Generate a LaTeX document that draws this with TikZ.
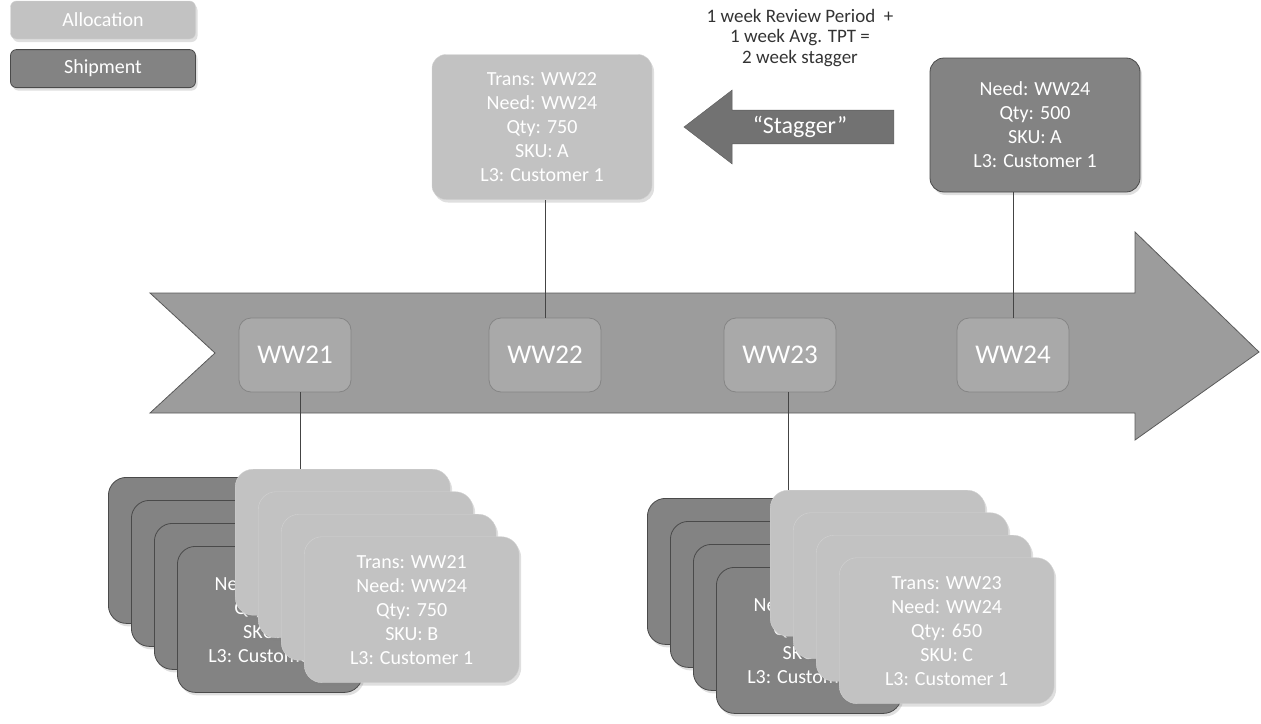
\documentclass[tikz,border=0pt]{standalone}
\usepackage{fontspec}
\setmainfont{Carlito}
\usepackage{tikz}
\usetikzlibrary{shapes.arrows, shadows, positioning}
\definecolor{arrowfill}{HTML}{9C9C9C}
\definecolor{arrowline}{HTML}{5A5A5A}
\definecolor{weekfill}{HTML}{A9A9A9}
\definecolor{weekline}{HTML}{858585}
\definecolor{allocfill}{HTML}{C2C2C2}
\definecolor{allocline}{HTML}{D2D2D2}
\definecolor{shipfill}{HTML}{838383}
\definecolor{shipline}{HTML}{4A4A4A}
\definecolor{staggerfill}{HTML}{727272}
\definecolor{linkgray}{HTML}{444444}

\begin{document}
\begin{tikzpicture}[
    x=1pt, y=-1pt,
    card/.style={rectangle, rounded corners=14pt, minimum width=215pt, minimum height=150pt,
                 align=center, text=white, font=\fontsize{20}{24}\selectfont,
                 drop shadow={opacity=0.25, shadow xshift=2pt, shadow yshift=-3pt}},
    alloc/.style={card, draw=allocline, fill=allocfill},
    ship/.style={card, draw=shipline, fill=shipfill, thick},
    stackship/.style={ship, rounded corners=18pt, minimum width=185pt, minimum height=146pt,
                      anchor=north west},
    stackalloc/.style={alloc, rounded corners=18pt, minimum height=146pt, anchor=north west},
    week/.style={rectangle, rounded corners=12pt, draw=weekline, fill=weekfill, thick,
                 minimum width=112pt, minimum height=74pt, text=white,
                 font=\fontsize{27}{30}\selectfont},
    legend/.style={rectangle, rounded corners=6pt, minimum width=185pt, minimum height=38pt,
                   text=white, font=\fontsize{20}{22}\selectfont,
                   drop shadow={opacity=0.25, shadow xshift=2pt, shadow yshift=-3pt}},
    stagger/.style={single arrow, shape border rotate=180, draw=arrowline, fill=staggerfill,
                    minimum height=210pt, single arrow head extend=20pt,
                    single arrow tip angle=75, inner ysep=6pt, text=white,
                    font=\fontsize{24}{26}\selectfont},
    timeline/.style={draw=arrowline, fill=arrowfill, thick},
    link/.style={draw=linkgray, thin},
]
\useasboundingbox (0,0) rectangle (1261,723);

% legend
\node[legend, draw=allocline, fill=allocfill] (legalloc) at (103,20) {Allocation};
\node[legend, draw=shipline, fill=shipfill, thick, below=10pt of legalloc] (legship) {Shipment};

% timeline arrow
\draw[timeline] (150,293) -- (1135,293) -- (1135,232) -- (1259,352) -- (1135,440)
    -- (1135,413) -- (150,413) -- (215,353) -- cycle;

\node[week] (ww21) at (295,355) {WW21};
\node[week] (ww22) at (545,355) {WW22};
\node[week] (ww23) at (780,355) {WW23};
\node[week] (ww24) at (1013,355) {WW24};

% top row
\node[align=center, text=black!80, font=\fontsize{19}{20.5}\selectfont] (note) at (800,38)
    {1 week Review Period\ \ +\\1 week Avg. TPT =\\2 week stagger};
\node[alloc, minimum width=220pt, minimum height=145pt] (trans22) at (542,127)
    {Trans: WW22\\Need: WW24\\Qty: 750\\SKU: A\\L3: Customer 1};
\node[stagger] (stag) at (800,127) {``Stagger''};
\node[ship, minimum width=210pt, minimum height=134pt] (need24) at (1035,125)
    {Need: WW24\\Qty: 500\\SKU: A\\L3: Customer 1};

\draw[link] (ww22.north) -- (ww22.north |- trans22.south);
\draw[link] (ww24.north) -- (ww24.north |- need24.south);

% stack under WW21
\foreach \i in {0,1,2}
    \node[stackship] (shipa\i) at (108+23*\i, 477+23*\i) {};
\node[stackship] (shipa3) at (177,546)
    {Need: WW24\\Qty: 500\\SKU: A\\L3: Customer 1};
\foreach \i in {0,1,2}
    \node[stackalloc] (alloca\i) at (235+23*\i, 469+22.5*\i) {};
\node[stackalloc] (alloca3) at (304,536.5)
    {Trans: WW21\\Need: WW24\\Qty: 750\\SKU: B\\L3: Customer 1};
\draw[link] (ww21.south) ++(5,0) coordinate (ww21b) -- (ww21b |- alloca0.north);

% stack under WW23
\foreach \i in {0,1,2}
    \node[stackship] (shipb\i) at (647+23*\i, 498+23*\i) {};
\node[stackship] (shipb3) at (716,567)
    {Need: WW24\\Qty: 650\\SKU: C\\L3: Customer 1};
\foreach \i in {0,1,2}
    \node[stackalloc] (allocb\i) at (770+23*\i, 490+22.5*\i) {};
\node[stackalloc] (allocb3) at (839,557.5)
    {Trans: WW23\\Need: WW24\\Qty: 650\\SKU: C\\L3: Customer 1};
\draw[link] (ww23.south) ++(8,0) coordinate (ww23b) -- (ww23b |- allocb0.north);

\end{tikzpicture}
\end{document}
